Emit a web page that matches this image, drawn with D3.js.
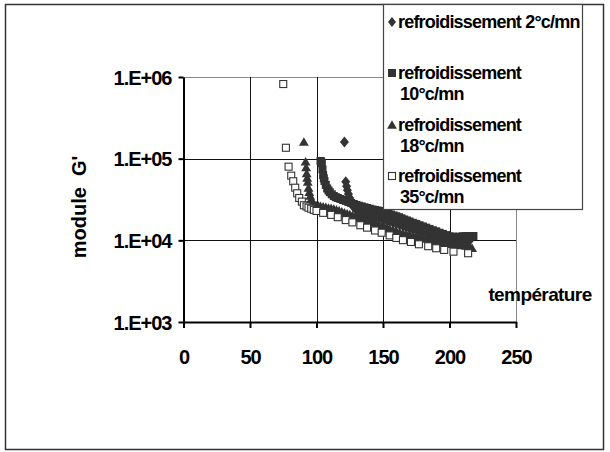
<!DOCTYPE html>
<html>
<head>
<meta charset="utf-8">
<script src="https://cdn.jsdelivr.net/npm/d3@7"></script>
<style>
  body { margin: 0; background: #fff; }
  svg { display: block; font-family: "Liberation Sans", Arial, sans-serif; font-weight: bold; }
</style>
</head>
<body>
<svg id="chart" width="610" height="452"></svg>
<script>
// cooling 2 °C/mn  [temperature, G']
const cool2 = [
  [121, 160000], [122, 52000], [122.6, 46000], [123.2, 41000], [124, 37000], [125, 33000],
  [126, 29000], [127, 27000], [128, 25500], [129.5, 24300], [131, 23000], [133, 22200],
  [135, 21600], [137, 21100], [139, 20600], [141, 20100], [143, 19700], [145, 19300],
  [147, 18900], [149, 18500], [151, 18100], [153, 17600], [155, 17100], [157.5, 16500],
  [160, 16000], [162.5, 15500], [165, 15000], [167.5, 14500], [170, 14100], [172.5, 13700],
  [175, 13300], [177.5, 12900], [180, 12600], [182.5, 12200], [185, 11900], [187.5, 11500],
  [190, 11200], [192.5, 10900], [195, 10600], [197.5, 10300], [200, 10100], [202.5, 9950],
  [205, 9850], [207.5, 9800], [210, 9850], [212.5, 9900], [215, 9900]
]
// cooling 10 °C/mn
const cool10 = [
  [103, 93800], [103.5, 92000], [104, 88000], [104.5, 74000], [105, 63000], [105.5, 57500],
  [106, 53300], [107, 47700], [108, 43200], [109, 40800], [110, 38800], [111.5, 36600],
  [113, 34900], [114.5, 33800], [116, 33000], [118, 32100], [120, 31200], [122, 30400],
  [124, 29500], [126, 28700], [128, 27900], [130, 27100], [132, 26500], [134, 26000],
  [136, 25400], [138, 24900], [140, 24400], [142, 23900], [144, 23500], [146, 23200],
  [148, 22900], [150, 22600], [152, 21900], [154, 21300], [156, 20700], [158, 20200],
  [160, 19700], [162, 19200], [164, 18600], [166, 18000], [168, 17500], [170, 17000],
  [172.5, 16400], [175, 15900], [177.5, 15300], [180, 14800], [182.5, 14300], [185, 13800],
  [187.5, 13300], [190, 12900], [192.5, 12400], [195, 12000], [197.5, 11600], [200, 11200],
  [202.5, 11100], [205, 11000], [207.5, 11100], [210, 11200], [212, 11250], [214, 11300],
  [216, 11300], [218, 11300]
]
// cooling 18 °C/mn
const cool18 = [
  [90.5, 160000], [91.8, 92000], [92.2, 78000], [92.6, 66000], [93, 58000], [93.4, 52000],
  [94, 44000], [94.6, 39000], [95.3, 35000], [96, 32000], [97, 29500], [98, 27300],
  [99, 26800], [100, 26500], [101.5, 26300], [103, 26100], [105, 25800], [107, 25400],
  [109, 25000], [111, 24700], [113, 24200], [115, 23700], [117, 23100], [119, 22400],
  [121, 21800], [123, 21200], [125, 20700], [127, 20200], [129, 19700], [131, 19200],
  [133, 18700], [135, 18200], [137, 17700], [139, 17200], [141, 16800], [143, 16400],
  [145, 15900], [147, 15500], [149, 15100], [151, 14700], [153, 14300], [155, 13900],
  [157.5, 13500], [160, 13000], [162.5, 12600], [165, 12200], [167.5, 11900], [170, 11700],
  [172.5, 11400], [175, 11200], [177.5, 10900], [180, 10700], [182.5, 10400], [185, 10200],
  [187.5, 9950], [190, 9750], [192.5, 9550], [195, 9380], [197.5, 9230], [200, 9090],
  [202.5, 8950], [205, 8810], [207.5, 8720], [210, 8640], [212.5, 8550], [215, 8470],
  [217, 8000]
]
// cooling 35 °C/mn
const cool35 = [
  [75, 820000], [77, 136000], [79, 79800], [81, 61900], [82.5, 52900], [84, 44100],
  [85.5, 37700], [87, 33000], [89, 29800], [90.5, 26900], [92.5, 26000], [94, 25100],
  [96, 24400], [98, 23600], [100, 22900], [105, 21700], [111, 20500], [116, 19200],
  [122, 17700], [127, 16600], [133, 15300], [138, 14300], [144, 13200], [149, 12400],
  [155, 11500], [160, 10700], [165, 10050], [171, 9550], [177, 8950], [184, 8470],
  [190, 8000], [196, 7630], [203, 7270], [214, 6950]
]

const xTicks = [0, 50, 100, 150, 200, 250]
const yTicks = [1e3, 1e4, 1e5, 1e6]
const legendLabels = [
  ['refroidissement 2°c/mn'],
  ['refroidissement', '10°c/mn'],
  ['refroidissement', '18°c/mn'],
  ['refroidissement', '35°c/mn']
]

const svg = d3.select('#chart')
const dark = '#333'

var x = d3.scaleLinear().domain([0, 250]).range([183.5, 516])
var y = d3.scaleLog().domain([1e3, 1e6]).range([322, 77])

// outer frame
svg.append('rect')
  .attr('x', 5.5).attr('y', 4.5).attr('width', 598).attr('height', 445)
  .attr('fill', '#fff').attr('stroke', '#333').attr('stroke-width', 1.5)

// grid
var grid = svg.append('g')
grid.selectAll('.gy').data(yTicks.slice(1)).join('line')
  .attr('x1', x(0)).attr('x2', x(250))
  .attr('y1', d => Math.round(y(d)) + 0.5).attr('y2', d => Math.round(y(d)) + 0.5)
  .attr('stroke', d => d === 1e6 ? '#888' : '#111')
grid.selectAll('.gx').data(xTicks.slice(1)).join('line')
  .attr('y1', y(1e6)).attr('y2', y(1e3))
  .attr('x1', d => Math.round(x(d)) + 0.5).attr('x2', d => Math.round(x(d)) + 0.5)
  .attr('stroke', d => d === 250 ? '#888' : '#111')

// markers
function diamondPath (w, h) {
  return 'M0,' + (-h) + 'L' + w + ',0L0,' + h + 'L' + (-w) + ',0Z'
}
const tri = d3.symbol().type(d3.symbolTriangle).size(42)()

var marks = svg.append('g')
marks.selectAll('.d2').data(cool2).join('path')
  .attr('d', diamondPath(4.5, 5.5))
  .attr('transform', d => 'translate(' + x(d[0]) + ',' + y(d[1]) + ')')
  .attr('fill', dark)
marks.selectAll('.d10').data(cool10).join('rect')
  .attr('x', d => x(d[0]) - 4).attr('y', d => y(d[1]) - 4)
  .attr('width', 8).attr('height', 8)
  .attr('fill', dark)
marks.selectAll('.d18').data(cool18).join('path')
  .attr('d', tri)
  .attr('transform', d => 'translate(' + x(d[0]) + ',' + (y(d[1]) + 1) + ')')
  .attr('fill', dark)
marks.selectAll('.d35').data(cool35).join('rect')
  .attr('x', d => x(d[0]) - 3.5).attr('y', d => y(d[1]) - 3.5)
  .attr('width', 7).attr('height', 7)
  .attr('fill', '#fff').attr('stroke', dark).attr('stroke-width', 1.1)

// axes
var xAxis = svg.append('g')
  .attr('transform', 'translate(0,' + y(1e3) + ')')
  .call(d3.axisBottom(x).tickValues(xTicks).tickSize(6).tickSizeOuter(0).tickPadding(22))
var yAxis = svg.append('g')
  .attr('transform', 'translate(' + x(0) + ',0)')
  .call(d3.axisLeft(y).tickValues(yTicks).tickSize(5).tickSizeOuter(0).tickPadding(7)
    .tickFormat(d => '1.E+0' + Math.round(Math.log10(d))))
svg.selectAll('.domain').attr('stroke', '#000').attr('stroke-width', 2)
svg.selectAll('.tick line').attr('stroke', '#000').attr('stroke-width', 2)
svg.selectAll('.tick text')
  .attr('fill', '#000')
  .style('font-size', '20px').style('font-weight', 'bold').style('letter-spacing', '-1px')
  .style('font-family', '"Liberation Sans", Arial, sans-serif')
yAxis.selectAll('.tick text').attr('dy', '0.36em')

// axis titles
svg.append('text')
  .attr('transform', 'translate(86,207) rotate(-90)')
  .attr('text-anchor', 'middle')
  .attr('xml:space', 'preserve')
  .style('white-space', 'pre')
  .style('font-size', '20px')
  .text("module  G'")
svg.append('text')
  .attr('x', 540).attr('y', 301)
  .attr('text-anchor', 'middle')
  .style('font-size', '19px').style('letter-spacing', '-0.6px')
  .text('température')

// legend
var legend = svg.append('g')
legend.append('rect')
  .attr('x', 383.5).attr('y', 4.5).attr('width', 199).attr('height', 205)
  .attr('fill', '#fff').attr('stroke', '#444').attr('stroke-width', 1.2)

const legendY = [22, 73, 125, 176]
const legendMarks = [
  g => g.append('path').attr('d', diamondPath(4, 5)).attr('fill', dark),
  g => g.append('rect').attr('x', -4).attr('y', -4).attr('width', 8).attr('height', 8).attr('fill', dark),
  g => g.append('path').attr('d', tri).attr('transform', 'translate(0,1)').attr('fill', dark),
  g => g.append('rect').attr('x', -3.5).attr('y', -3.5).attr('width', 7).attr('height', 7)
    .attr('fill', '#fff').attr('stroke', dark).attr('stroke-width', 1.1)
]
legendLabels.forEach((lines, i) => {
  var item = legend.append('g').attr('transform', 'translate(392,' + legendY[i] + ')')
  legendMarks[i](item)
  lines.forEach((t, j) => {
    legend.append('text')
      .attr('x', j === 0 ? 398 : 400)
      .attr('y', legendY[i] + 6 + j * 21)
      .style('font-size', '18px').style('letter-spacing', '-0.8px')
      .text(t)
  })
})
</script>
</body>
</html>
